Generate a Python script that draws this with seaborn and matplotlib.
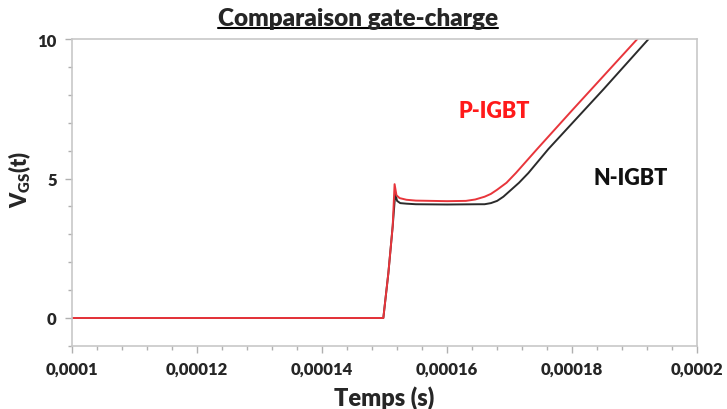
import numpy as np
import pandas as pd
import matplotlib
matplotlib.use("Agg")
import matplotlib.pyplot as plt
from matplotlib.lines import Line2D
from matplotlib.ticker import MultipleLocator
import seaborn as sns

# Gate voltage traces (time in seconds, V_GS in volts)
t_p = [0.00010, 0.0001498, 0.0001506, 0.0001513, 0.0001516, 0.0001519, 0.0001524,
       0.0001535, 0.000155, 0.000160, 0.000163, 0.0001645, 0.000166, 0.000167,
       0.000168, 0.0001695, 0.000171, 0.0001744, 0.000180, 0.0001904]
v_p = [0.0, 0.0, 1.6, 3.3, 4.8, 4.4, 4.3,
       4.24, 4.21, 4.19, 4.2, 4.25, 4.35, 4.45,
       4.6, 4.85, 5.2, 6.06, 7.45, 10.0]

t_n = [0.00010, 0.0001498, 0.0001506, 0.0001513, 0.0001517, 0.000152, 0.0001525,
       0.0001535, 0.000155, 0.000160, 0.000165, 0.000166, 0.000167, 0.000168,
       0.000169, 0.000170, 0.0001715, 0.000173, 0.0001762, 0.000185, 0.0001922]
v_n = [0.0, 0.0, 1.6, 3.3, 4.45, 4.2, 4.12,
       4.1, 4.08, 4.07, 4.08, 4.08, 4.12, 4.2,
       4.35, 4.55, 4.85, 5.2, 6.06, 8.2, 10.0]

x_ticks = [0.0001, 0.00012, 0.00014, 0.00016, 0.00018, 0.0002]
x_tick_labels = ["0,0001", "0,00012", "0,00014", "0,00016", "0,00018", "0,0002"]
y_ticks = [0, 5, 10]

df = pd.concat([
    pd.DataFrame({"t": t_n, "v": v_n, "type": "N-IGBT"}),
    pd.DataFrame({"t": t_p, "v": v_p, "type": "P-IGBT"}),
])

sns.set_theme(style="white")
plt.rcParams["font.family"] = ["Lato", "DejaVu Sans"]
plt.rcParams["font.weight"] = "bold"
plt.rcParams["mathtext.default"] = "regular"

fig = plt.figure(figsize=(7.27, 4.10), dpi=100)
ax = fig.add_axes([0.099, 0.154, 0.860, 0.748])

palette = {"N-IGBT": "#2b2b2b", "P-IGBT": "#e8353b"}
sns.lineplot(data=df, x="t", y="v", hue="type", hue_order=["N-IGBT", "P-IGBT"],
             palette=palette, linewidth=1.4, legend=False, ax=ax, sort=False,
             estimator=None)

ax.set_xlim(0.0001, 0.0002)
ax.set_ylim(-1, 10)
ax.set_xticks(x_ticks)
ax.set_xticklabels(x_tick_labels)
ax.set_yticks(y_ticks)
ax.xaxis.set_minor_locator(MultipleLocator(0.000004))
ax.yaxis.set_minor_locator(MultipleLocator(1))

for s in ax.spines.values():
    s.set_color("#c8c8c8")
    s.set_linewidth(1.2)

ax.tick_params(axis="both", which="both", direction="out", color="#b0b0b0",
               bottom=True, left=True, width=1)
ax.tick_params(axis="both", which="major", length=5, labelsize=12, pad=6)
ax.tick_params(axis="both", which="minor", length=3)
for lab in ax.get_xticklabels() + ax.get_yticklabels():
    lab.set_fontweight("heavy")

ax.set_xlabel("Temps (s)", fontsize=17, fontweight="heavy", labelpad=6)
ax.set_ylabel(r"V$_{GS}$(t)", fontsize=15.5, fontweight="heavy")
ax.yaxis.set_label_coords(-0.062, 0.545)

ax.text(0.0001675, 7.45, "P-IGBT", color="#ff1a1a", fontsize=15.5, fontweight="heavy",
        ha="center", va="center")
ax.text(0.0001893, 5.05, "N-IGBT", color="#111111", fontsize=15.5, fontweight="heavy",
        ha="center", va="center")

title = fig.text(0.492, 0.953, "Comparaison gate-charge", fontsize=17.5, fontweight="heavy",
                 ha="center", va="center")

# underline the title
fig.canvas.draw()
bb = title.get_window_extent(fig.canvas.get_renderer()).transformed(fig.transFigure.inverted())
fig.add_artist(Line2D([bb.x0, bb.x1], [bb.y0 + 0.004, bb.y0 + 0.004],
                      transform=fig.transFigure, color="black", linewidth=1.5))

fig.savefig("out.png", dpi=100)
